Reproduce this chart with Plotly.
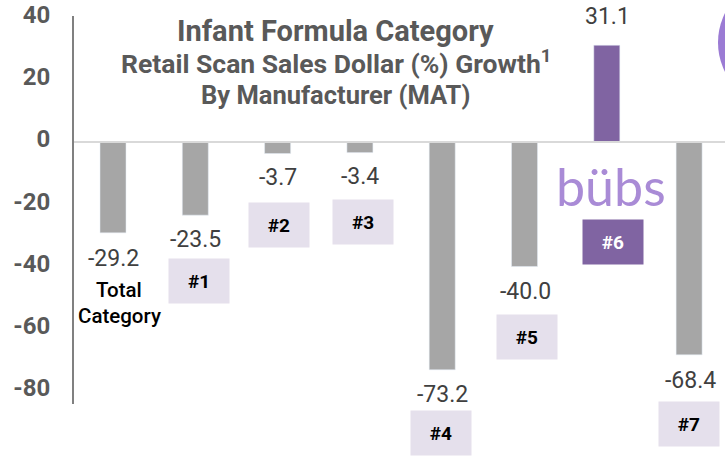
import plotly.graph_objects as go

categories = ["Total Category", "#1", "#2", "#3", "#4", "#5", "#6", "#7"]
values = [-29.2, -23.5, -3.7, -3.4, -73.2, -40.0, 31.1, -68.4]
bar_colors = ["#A6A6A6"] * 6 + ["#8064A2", "#A6A6A6"]
y_ticks = [40, 20, 0, -20, -40, -60, -80]
y_tick_text = ["40", "20", "0", "-20", "-40", "-60", "-80"]
value_label_px = [(113, 258), (195, 240), (278, 177), (360, 176), (442, 394), (525, 291), (607, 17), (690, 380)]
rank_labels = ["#1", "#2", "#3", "#4", "#5", "#6", "#7"]
rank_box_px = [(199, 281), (278.5, 225), (363, 222), (441, 433), (527, 337), (613, 242), (689, 424)]
title_lines = [("Infant Formula Category", 335, 31, 29), ("Retail Scan Sales Dollar (%) Growth<sup>1</sup>", 336, 62, 26.5), ("By Manufacturer (MAT)", 335, 95, 25.5)]

W, H = 725, 456
L, R, T, B = 74, 0, 16, 52
FONT = "Roboto"


def px(x):
    return (x - L) / (W - L - R)


def py(y):
    return 1 - (y - T) / (H - T - B)


x_pos = list(range(len(categories)))
fig = go.Figure(go.Bar(x=x_pos, y=values, marker_color=bar_colors, width=0.316, hoverinfo="skip"))

ann = []
for v, (x, y) in zip(values, value_label_px):
    ann.append(dict(x=px(x), y=py(y), text=f"{v:.1f}", font=dict(size=23, color="#404040", family=FONT)))
for t, (x, y) in zip(rank_labels, rank_box_px):
    six = t == "#6"
    ann.append(dict(x=px(x), y=py(y), text=f"<b>{t}</b>", width=60, height=44, align="center", valign="middle",
                    borderpad=0, bgcolor="#8064A2" if six else "#E5E0EC",
                    font=dict(size=19, color="#FFFFFF" if six else "#000000", family=FONT)))
for t, x, y, s in title_lines:
    ann.append(dict(x=px(x), y=py(y), text=f"<b>{t}</b>", font=dict(size=s, color="#595959", family=FONT)))
ann.append(dict(x=px(119), y=py(290), text="Total", font=dict(size=20.5, color="#000000", family=FONT, weight=500)))
ann.append(dict(x=px(119), y=py(316), text="Category", font=dict(size=20.5, color="#000000", family=FONT, weight=500)))
ann.append(dict(x=px(611), y=py(186), text="bübs", font=dict(size=52, color="#A98BD6", family="Lato")))
for a in ann:
    a.update(xref="paper", yref="paper", xanchor="center", yanchor="middle", showarrow=False)

fig.update_layout(
    width=W, height=H, margin=dict(l=L, r=R, t=T, b=B), autosize=False,
    paper_bgcolor="white", plot_bgcolor="white", showlegend=False, annotations=ann,
    xaxis=dict(range=[-0.474, 7.436], showticklabels=False, showgrid=False, zeroline=False, ticks="", fixedrange=True),
    yaxis=dict(range=[-84.2, 40.5], tickvals=y_ticks, ticktext=y_tick_text, showgrid=False, zeroline=False, showline=True,
               linecolor="#808080", linewidth=2, ticks="", ticklabelshift=-3, ticklabelstandoff=17,
               tickfont=dict(size=24, color="#595959", family=FONT, weight=700), fixedrange=True),
    shapes=[
        dict(type="line", xref="paper", yref="y", x0=0, x1=1, y0=0, y1=0, layer="above",
             line=dict(color="#D9D9D9", width=2)),
        dict(type="circle", xref="paper", yref="paper", x0=px(718), x1=px(849), y0=py(108), y1=py(-23),
             fillcolor="#9B7BD4", line_width=0, layer="above"),
    ],
)
fig.write_html("out.html", post_script="document.body.style.margin='0';", config=dict(displayModeBar=False))
